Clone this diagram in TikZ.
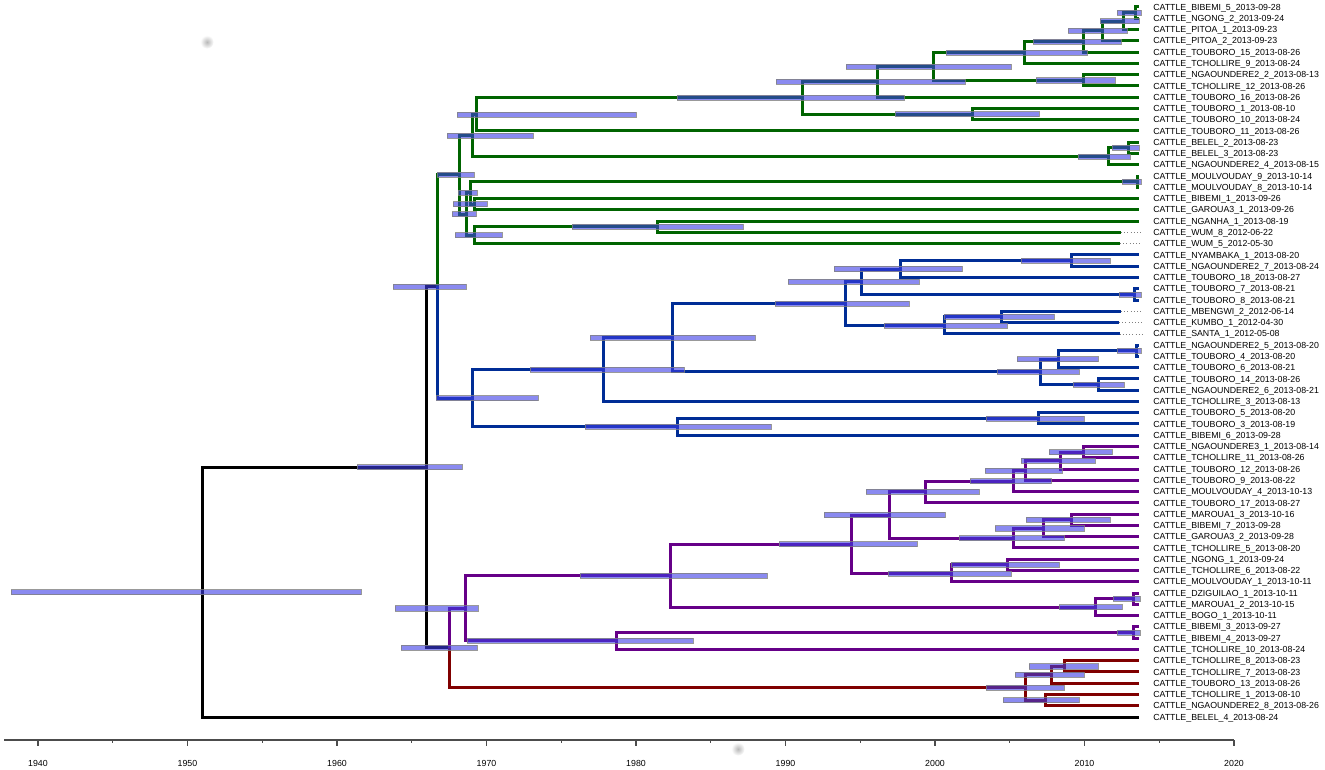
\documentclass[tikz,border=0pt]{standalone}
\usepackage{fontspec}
\setmainfont{Liberation Sans}
\usetikzlibrary{calc}

\definecolor{cladegreen}{RGB}{0,100,0}
\definecolor{cladeblue}{RGB}{0,45,150}
\definecolor{cladepurple}{RGB}{102,0,136}
\definecolor{cladered}{RGB}{128,0,0}
\definecolor{hpdblue}{RGB}{60,60,230}

% inner node: name, x, upper child, lower child (y = middle of children)
\newcommand{\treenode}[4]{%
  \path let \p1=(#3), \p2=(#4), \p3=(#2,0) in (\x3,{0.5*(\y1)+0.5*(\y2)}) coordinate (#1);}
% height interval bar: node, from x, to x
\newcommand{\hpd}[3]{%
  \path[hpdbar] let \p1=(#1), \p2=(#2,0), \p3=(#3,0) in (\x2,{\y1-1.9pt}) rectangle (\x3,{\y1+1.9pt});}

\begin{document}
\begin{tikzpicture}[x=0.75pt,y=-0.75pt,
    branch/.style={line width=2.25pt,line join=miter},
    elbow/.style={to path={|- (\tikztotarget) \tikztonodes}},
    hpdbar/.style={fill=hpdblue,fill opacity=0.6,draw=gray,draw opacity=0.8,line width=0.4pt},
    leaf/.style={anchor=west,inner sep=0pt,text height=4.7pt,text depth=0pt,font=\fontsize{6.6}{7}\selectfont},
    leader/.style={gray,dotted,line width=0.4pt},
    axisline/.style={gray!60!black,line width=0.9pt}]

  \useasboundingbox (0,0) rectangle (1325,770);

  % tips and labels
  \foreach \i/\lab in {1/CATTLE\_BIBEMI\_5\_2013-09-28,
      2/CATTLE\_NGONG\_2\_2013-09-24,
      3/CATTLE\_PITOA\_1\_2013-09-23,
      4/CATTLE\_PITOA\_2\_2013-09-23,
      5/CATTLE\_TOUBORO\_15\_2013-08-26,
      6/CATTLE\_TCHOLLIRE\_9\_2013-08-24,
      7/CATTLE\_NGAOUNDERE2\_2\_2013-08-13,
      8/CATTLE\_TCHOLLIRE\_12\_2013-08-26,
      9/CATTLE\_TOUBORO\_16\_2013-08-26,
      10/CATTLE\_TOUBORO\_1\_2013-08-10,
      11/CATTLE\_TOUBORO\_10\_2013-08-24,
      12/CATTLE\_TOUBORO\_11\_2013-08-26,
      13/CATTLE\_BELEL\_2\_2013-08-23,
      14/CATTLE\_BELEL\_3\_2013-08-23,
      15/CATTLE\_NGAOUNDERE2\_4\_2013-08-15,
      16/CATTLE\_MOULVOUDAY\_9\_2013-10-14,
      17/CATTLE\_MOULVOUDAY\_8\_2013-10-14,
      18/CATTLE\_BIBEMI\_1\_2013-09-26,
      19/CATTLE\_GAROUA3\_1\_2013-09-26,
      20/CATTLE\_NGANHA\_1\_2013-08-19,
      21/CATTLE\_WUM\_8\_2012-06-22,
      22/CATTLE\_WUM\_5\_2012-05-30,
      23/CATTLE\_NYAMBAKA\_1\_2013-08-20,
      24/CATTLE\_NGAOUNDERE2\_7\_2013-08-24,
      25/CATTLE\_TOUBORO\_18\_2013-08-27,
      26/CATTLE\_TOUBORO\_7\_2013-08-21,
      27/CATTLE\_TOUBORO\_8\_2013-08-21,
      28/CATTLE\_MBENGWI\_2\_2012-06-14,
      29/CATTLE\_KUMBO\_1\_2012-04-30,
      30/CATTLE\_SANTA\_1\_2012-05-08,
      31/CATTLE\_NGAOUNDERE2\_5\_2013-08-20,
      32/CATTLE\_TOUBORO\_4\_2013-08-20,
      33/CATTLE\_TOUBORO\_6\_2013-08-21,
      34/CATTLE\_TOUBORO\_14\_2013-08-26,
      35/CATTLE\_NGAOUNDERE2\_6\_2013-08-21,
      36/CATTLE\_TCHOLLIRE\_3\_2013-08-13,
      37/CATTLE\_TOUBORO\_5\_2013-08-20,
      38/CATTLE\_TOUBORO\_3\_2013-08-19,
      39/CATTLE\_BIBEMI\_6\_2013-09-28,
      40/CATTLE\_NGAOUNDERE3\_1\_2013-08-14,
      41/CATTLE\_TCHOLLIRE\_11\_2013-08-26,
      42/CATTLE\_TOUBORO\_12\_2013-08-26,
      43/CATTLE\_TOUBORO\_9\_2013-08-22,
      44/CATTLE\_MOULVOUDAY\_4\_2013-10-13,
      45/CATTLE\_TOUBORO\_17\_2013-08-27,
      46/CATTLE\_MAROUA1\_3\_2013-10-16,
      47/CATTLE\_BIBEMI\_7\_2013-09-28,
      48/CATTLE\_GAROUA3\_2\_2013-09-28,
      49/CATTLE\_TCHOLLIRE\_5\_2013-08-20,
      50/CATTLE\_NGONG\_1\_2013-09-24,
      51/CATTLE\_TCHOLLIRE\_6\_2013-08-22,
      52/CATTLE\_MOULVOUDAY\_1\_2013-10-11,
      53/CATTLE\_DZIGUILAO\_1\_2013-10-11,
      54/CATTLE\_MAROUA1\_2\_2013-10-15,
      55/CATTLE\_BOGO\_1\_2013-10-11,
      56/CATTLE\_BIBEMI\_3\_2013-09-27,
      57/CATTLE\_BIBEMI\_4\_2013-09-27,
      58/CATTLE\_TCHOLLIRE\_10\_2013-08-24,
      59/CATTLE\_TCHOLLIRE\_8\_2013-08-23,
      60/CATTLE\_TCHOLLIRE\_7\_2013-08-23,
      61/CATTLE\_TOUBORO\_13\_2013-08-26,
      62/CATTLE\_TCHOLLIRE\_1\_2013-08-10,
      63/CATTLE\_NGAOUNDERE2\_8\_2013-08-26,
      64/CATTLE\_BELEL\_4\_2013-08-24} {
    \node[leaf] (l\i) at (1153,{7+(\i-1)*11.27}) {\lab};
    \coordinate (t\i) at (1139,{7+(\i-1)*11.27});
  }
  % older samples end earlier
  \coordinate (t21) at (1121,{7+20*11.27});
  \coordinate (t22) at (1120,{7+21*11.27});
  \coordinate (t28) at (1121,{7+27*11.27});
  \coordinate (t29) at (1119,{7+28*11.27});
  \coordinate (t30) at (1119.5,{7+29*11.27});

  % green clade
  \treenode{S1}{1135}{t1}{t2}
  \treenode{S2}{1123}{S1}{t3}
  \treenode{S3}{1102}{S2}{t4}
  \treenode{S4}{1083}{S3}{t5}
  \treenode{S5}{1024}{S4}{t6}
  \treenode{S7}{1083}{t7}{t8}
  \treenode{S6}{933}{S5}{S7}
  \treenode{T}{877}{S6}{t9}
  \treenode{R}{972}{t10}{t11}
  \treenode{P}{802}{T}{R}
  \treenode{G}{476}{P}{t12}
  \treenode{O}{1128}{t13}{t14}
  \treenode{N}{1108}{O}{t15}
  \treenode{F}{472}{G}{N}
  \treenode{M}{1137}{t16}{t17}
  \treenode{K}{474}{t18}{t19}
  \treenode{J}{470}{M}{K}
  \treenode{I}{657}{t20}{t21}
  \treenode{H}{474}{I}{t22}
  \treenode{L}{466}{J}{H}
  \treenode{D}{459}{F}{L}
  % blue clade
  \treenode{AA}{1071}{t23}{t24}
  \treenode{AB}{900}{AA}{t25}
  \treenode{AD}{1134}{t26}{t27}
  \treenode{AC}{861}{AB}{AD}
  \treenode{AF}{1001}{t28}{t29}
  \treenode{AE}{944}{AF}{t30}
  \treenode{X}{845}{AC}{AE}
  \treenode{Z1}{1136}{t31}{t32}
  \treenode{Z2}{1058}{Z1}{t33}
  \treenode{Z3}{1098}{t34}{t35}
  \treenode{Y}{1040}{Z2}{Z3}
  \treenode{W}{672}{X}{Y}
  \treenode{U}{603}{W}{t36}
  \treenode{VA}{1038}{t37}{t38}
  \treenode{V}{677}{VA}{t39}
  \treenode{E}{472}{U}{V}
  \treenode{B}{437}{D}{E}
  % purple clade
  \treenode{Q1}{1083}{t40}{t41}
  \treenode{Q2}{1060}{Q1}{t42}
  \treenode{Q3}{1025}{Q2}{t43}
  \treenode{Q4}{1013}{Q3}{t44}
  \treenode{Q5}{925}{Q4}{t45}
  \treenode{R1}{1071}{t46}{t47}
  \treenode{R2}{1043}{R1}{t48}
  \treenode{R3}{1013}{R2}{t49}
  \treenode{Q6}{889}{Q5}{R3}
  \treenode{PH}{1007}{t50}{t51}
  \treenode{PG}{951}{PH}{t52}
  \treenode{PD}{851}{Q6}{PG}
  \treenode{PI}{1133}{t53}{t54}
  \treenode{PE}{1095}{PI}{t55}
  \treenode{PB}{670}{PD}{PE}
  \treenode{PF}{1133}{t56}{t57}
  \treenode{PC}{616}{PF}{t58}
  \treenode{PA}{465}{PB}{PC}
  % red clade
  \treenode{RB}{1064}{t59}{t60}
  \treenode{RC}{1051}{RB}{t61}
  \treenode{RD}{1045}{t62}{t63}
  \treenode{RA}{1025}{RC}{RD}
  % backbone
  \treenode{C}{449}{PA}{RA}
  \treenode{A}{426}{B}{C}
  \treenode{R0}{202}{A}{t64}

  \begin{scope}[every edge/.style={draw,branch,elbow,black}]
    \path (R0) edge (A) edge (t64);
    \path (A) edge (B) edge (C);
  \end{scope}

  \begin{scope}[every edge/.style={draw,branch,elbow,cladegreen}]
    \path (B) edge (D);
    \path (D) edge (F) edge (L);
    \path (F) edge (G) edge (N);
    \path (G) edge (P) edge (t12);
    \path (P) edge (T) edge (R);
    \path (T) edge (S6) edge (t9);
    \path (S6) edge (S5) edge (S7);
    \path (S5) edge (S4) edge (t6);
    \path (S4) edge (S3) edge (t5);
    \path (S3) edge (S2) edge (t4);
    \path (S2) edge (S1) edge (t3);
    \path (S1) edge (t1) edge (t2);
    \path (S7) edge (t7) edge (t8);
    \path (R) edge (t10) edge (t11);
    \path (N) edge (O) edge (t15);
    \path (O) edge (t13) edge (t14);
    \path (L) edge (J) edge (H);
    \path (J) edge (M) edge (K);
    \path (M) edge (t16) edge (t17);
    \path (K) edge (t18) edge (t19);
    \path (H) edge (I) edge (t22);
    \path (I) edge (t20) edge (t21);
  \end{scope}

  \begin{scope}[every edge/.style={draw,branch,elbow,cladeblue}]
    \path (B) edge (E);
    \path (E) edge (U) edge (V);
    \path (U) edge (W) edge (t36);
    \path (W) edge (X) edge (Y);
    \path (X) edge (AC) edge (AE);
    \path (AC) edge (AB) edge (AD);
    \path (AB) edge (AA) edge (t25);
    \path (AA) edge (t23) edge (t24);
    \path (AD) edge (t26) edge (t27);
    \path (AE) edge (AF) edge (t30);
    \path (AF) edge (t28) edge (t29);
    \path (Y) edge (Z2) edge (Z3);
    \path (Z2) edge (Z1) edge (t33);
    \path (Z1) edge (t31) edge (t32);
    \path (Z3) edge (t34) edge (t35);
    \path (V) edge (VA) edge (t39);
    \path (VA) edge (t37) edge (t38);
  \end{scope}

  \begin{scope}[every edge/.style={draw,branch,elbow,cladepurple}]
    \path (C) edge (PA);
    \path (PA) edge (PB) edge (PC);
    \path (PB) edge (PD) edge (PE);
    \path (PD) edge (Q6) edge (PG);
    \path (Q6) edge (Q5) edge (R3);
    \path (Q5) edge (Q4) edge (t45);
    \path (Q4) edge (Q3) edge (t44);
    \path (Q3) edge (Q2) edge (t43);
    \path (Q2) edge (Q1) edge (t42);
    \path (Q1) edge (t40) edge (t41);
    \path (R3) edge (R2) edge (t49);
    \path (R2) edge (R1) edge (t48);
    \path (R1) edge (t46) edge (t47);
    \path (PG) edge (PH) edge (t52);
    \path (PH) edge (t50) edge (t51);
    \path (PE) edge (PI) edge (t55);
    \path (PI) edge (t53) edge (t54);
    \path (PC) edge (PF) edge (t58);
    \path (PF) edge (t56) edge (t57);
  \end{scope}

  \begin{scope}[every edge/.style={draw,branch,elbow,cladered}]
    \path (C) edge (RA);
    \path (RA) edge (RC) edge (RD);
    \path (RC) edge (RB) edge (t61);
    \path (RB) edge (t59) edge (t60);
    \path (RD) edge (t62) edge (t63);
  \end{scope}

  % dotted leaders for the 2012 samples
  \foreach \i in {21,22,28,29,30}
    \draw[leader] (t\i) -- ([xshift=-8pt]l\i.west);

  % node height bars
  \hpd{R0}{11}{361}   \hpd{A}{357}{462}   \hpd{B}{393}{466}   \hpd{C}{401}{477}
  \hpd{D}{437}{474}   \hpd{E}{436}{538}   \hpd{F}{447}{533}   \hpd{G}{457}{636}
  \hpd{P}{677}{904}   \hpd{T}{776}{965}   \hpd{S6}{846}{1011} \hpd{S5}{946}{1087}
  \hpd{S4}{1033}{1121} \hpd{S3}{1068}{1127} \hpd{S2}{1100}{1139} \hpd{S1}{1117}{1141}
  \hpd{S7}{1036}{1115} \hpd{R}{895}{1039}  \hpd{N}{1078}{1130} \hpd{O}{1112}{1139}
  \hpd{L}{452}{476}   \hpd{J}{458}{477}   \hpd{K}{453}{487}   \hpd{H}{455}{502}
  \hpd{M}{1122}{1141} \hpd{I}{572}{743}
  \hpd{U}{530}{684}   \hpd{W}{590}{755}   \hpd{X}{775}{909}   \hpd{AC}{788}{919}
  \hpd{AB}{834}{962}  \hpd{AA}{1021}{1110} \hpd{AD}{1119}{1141} \hpd{AE}{884}{1007}
  \hpd{AF}{944}{1054} \hpd{Y}{997}{1079}  \hpd{Z2}{1017}{1098} \hpd{Z1}{1117}{1141}
  \hpd{Z3}{1073}{1124} \hpd{V}{585}{771}  \hpd{VA}{986}{1084}
  \hpd{PA}{395}{478}  \hpd{PB}{580}{767}  \hpd{PD}{779}{917}  \hpd{Q6}{824}{945}
  \hpd{Q5}{866}{979}  \hpd{Q4}{970}{1051} \hpd{Q3}{985}{1062} \hpd{Q2}{1021}{1095}
  \hpd{Q1}{1049}{1112} \hpd{R3}{959}{1064} \hpd{R2}{995}{1084} \hpd{R1}{1026}{1110}
  \hpd{PG}{888}{1011} \hpd{PH}{951}{1059} \hpd{PE}{1059}{1122} \hpd{PI}{1113}{1140}
  \hpd{PC}{467}{693}  \hpd{PF}{1117}{1140}
  \hpd{RA}{986}{1064} \hpd{RC}{1015}{1084} \hpd{RB}{1029}{1098} \hpd{RD}{1003}{1079}

  % time axis
  \draw[axisline] (4,740) -- (1234,740);
  \foreach \yr in {1940,1950,...,2020} {
    \pgfmathsetmacro\xx{1234-(2020-\yr)*14.95}
    \draw[axisline] (\xx,740) -- (\xx,746);
    \node[leaf,anchor=center] (y\yr) at (\xx,763) {\yr};
  }
  \foreach \yr in {1945,1955,...,2015} {
    \pgfmathsetmacro\xx{1234-(2020-\yr)*14.95}
    \draw[axisline] (\xx,740) -- (\xx,743);
  }

  % faint specks
  \shade[inner color=gray!55,outer color=white] (207,42) circle (5pt);
  \shade[inner color=gray!55,outer color=white] (738,749) circle (5pt);

\end{tikzpicture}
\end{document}
